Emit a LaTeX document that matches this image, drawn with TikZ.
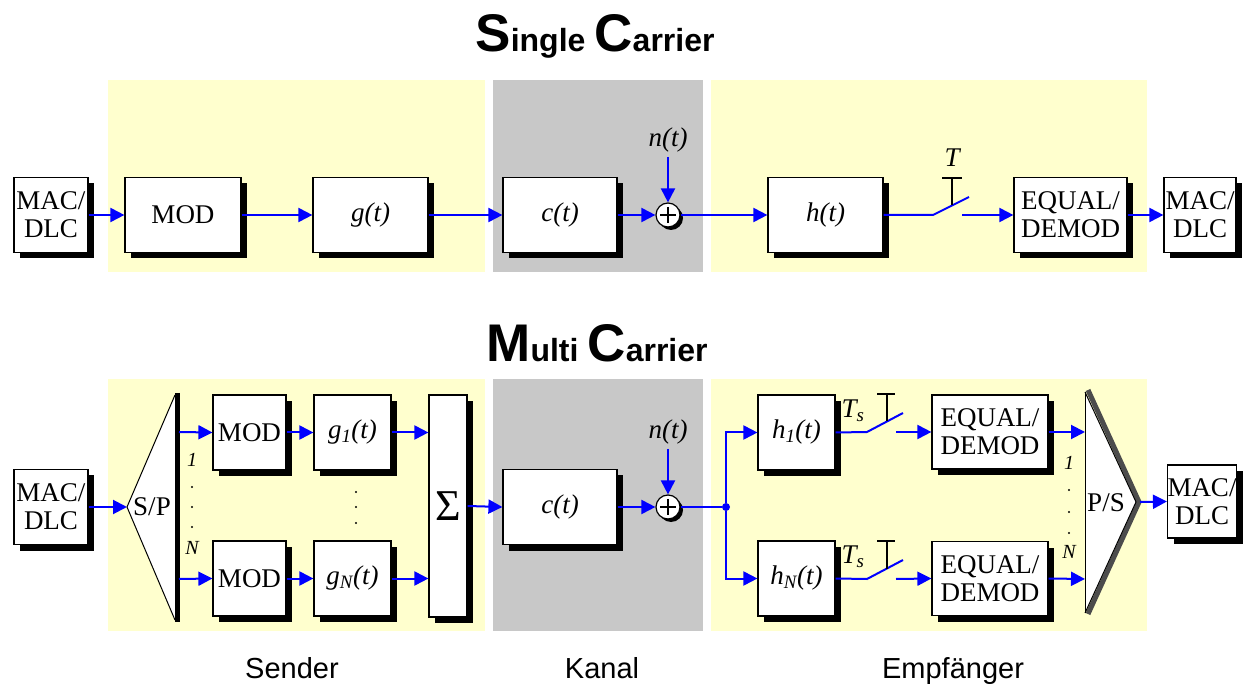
\documentclass[tikz,border=0pt]{standalone}
\usepackage{fontspec}
\setmainfont{Liberation Serif}
\setsansfont{Liberation Sans}
\usetikzlibrary{shadows,arrows.meta}
\newcommand\bxfont{\fontsize{27}{28}\selectfont}
\newcommand\smlfont{\fontsize{20}{22}\selectfont}
\newcommand\bigL[1]{{\fontsize{53}{53}\selectfont #1}}
\newcommand\smlL[1]{{\fontsize{32}{32}\selectfont #1}}
\definecolor{yel}{RGB}{255,255,206}
\definecolor{gry}{RGB}{200,200,200}
\definecolor{pblue}{RGB}{0,0,255}
\begin{document}
\begin{tikzpicture}[x=1pt,y=-1pt,
  blk/.style={draw=black,line width=1.2pt,fill=white,inner sep=0pt,align=center,font=\bxfont,
    drop shadow={shadow xshift=6pt,shadow yshift=-6pt,fill=black,opacity=1}},
  sig/.style={draw=pblue,line width=2pt,-{Triangle[length=14pt,width=14pt]}},
  wire/.style={draw=pblue,line width=2pt},
  sumc/.style={circle,draw=black,line width=1.2pt,fill=white,minimum size=24pt,inner sep=0pt,
    drop shadow={shadow xshift=3pt,shadow yshift=-3pt,fill=black,opacity=1}},
  sw/.style={draw=black,line width=1.2pt},
  lbl/.style={font=\bxfont\itshape,inner sep=0pt},
  idx/.style={font=\smlfont\itshape,inner sep=0pt},
  dotc/.style={circle,fill=black,inner sep=0pt,minimum size=2.4pt},
  sect/.style={font=\sffamily\fontsize{29}{29}\selectfont,anchor=base,inner sep=0pt},
  ttl/.style={font=\sffamily\bfseries,anchor=base,inner sep=0pt}
]
\useasboundingbox (0,0) rectangle (1243,684);
\fill[white] (0,0) rectangle (1243,684);
% panels
\fill[yel] (108,80) rectangle (485,272);
\fill[gry] (493,80) rectangle (703,272);
\fill[yel] (711,80) rectangle (1147,272);
\fill[yel] (108,379) rectangle (485,631);
\fill[gry] (493,379) rectangle (703,631);
\fill[yel] (711,379) rectangle (1147,631);
% titles
\node[ttl] (t1) at (595,52) {\bigL{S}\smlL{ingle}\hspace{9pt}\bigL{C}\smlL{arrier}};
\node[ttl] (t2) at (597,362) {\bigL{M}\smlL{ulti}\hspace{9pt}\bigL{C}\smlL{arrier}};
% ================= single carrier =================
\node[blk,minimum width=74pt,minimum height=75pt] (mac1) at (51,215) {MAC/\\DLC};
\node[blk,minimum width=116pt,minimum height=75pt] (mod) at (183,215) {MOD};
\node[blk,minimum width=115pt,minimum height=75pt] (g) at (370.5,215) {\itshape g(t)};
\node[blk,minimum width=114pt,minimum height=75pt] (c) at (560,215) {\itshape c(t)};
\node[sumc] (s1) at (668,215) {};
\draw[line width=1.2pt] (s1.center) ++(-8,0) -- ++(16,0);
\draw[line width=1.2pt] (s1.center) ++(0,-8) -- ++(0,16);
\node[lbl] (n1l) at (668,140) {n(t)};
\coordinate (n1) at (668,157);
\node[blk,minimum width=115pt,minimum height=75pt] (h) at (825.5,215) {\itshape h(t)};
\node[blk,minimum width=113pt,minimum height=75pt] (eq) at (1070.5,215) {EQUAL/\\DEMOD};
\node[blk,minimum width=72pt,minimum height=75pt] (mac2) at (1200,215) {MAC/\\DLC};
\coordinate (swa) at (933,215);
\coordinate (swb) at (969,197);
\coordinate (swc) at (962,215);
\node[lbl] (tl) at (952,158) {T};
\draw[sig] (mac1.east) -- (mod.west);
\draw[sig] (mod.east) -- (g.west);
\draw[sig] (g.east) -- (c.west);
\draw[sig] (c.east) -- (s1.west);
\draw[sig] (n1) -- (s1.north);
\draw[sig] (s1.east) -- (h.west);
\draw[wire] (h.east) -- (swa) -- (swb);
\draw[sw] (942,178) -- (962,178) (952,178) -- (952,205.5);
\draw[sig] (swc) -- (eq.west);
\draw[sig] (eq.east) -- (mac2.west);
% ================= multi carrier =================
\node[blk,minimum width=74pt,minimum height=75pt] (mac3) at (51,507) {MAC/\\DLC};
% S/P
\coordinate (spA) at (127,507);
\coordinate (spT) at (175,395);
\coordinate (spB) at (175,620);
\fill[white] (spA) -- (spT) -- (spB) -- cycle;
\draw[line width=1pt] (spT) -- (spA) -- (spB);
\draw[line width=5pt] (177,393) -- (177,622);
\node[font=\bxfont,inner sep=0pt] (sp) at (152,507) {S/P};
\coordinate (sp1) at (179,432);
\coordinate (sp2) at (179,579);
\node[idx] (i1) at (192,460) {1};
\node[dotc] (d1) at (192,487) {};
\node[dotc] (d2) at (192,507) {};
\node[dotc] (d3) at (192,527) {};
\node[idx] (iN) at (192,548) {N};
\node[blk,minimum width=73pt,minimum height=75pt] (mod1) at (249.5,432.5) {MOD};
\node[blk,minimum width=73pt,minimum height=75pt] (mod2) at (249.5,578.5) {MOD};
\node[blk,minimum width=77pt,minimum height=75pt] (g1) at (352.5,432.5) {\itshape g\textsubscript{1}(t)};
\node[blk,minimum width=77pt,minimum height=75pt] (gN) at (352.5,578.5) {\itshape g\textsubscript{N}(t)};
\node[dotc] (e1) at (356,492) {};
\node[dotc] (e2) at (356,507) {};
\node[dotc] (e3) at (356,523) {};
\node[blk,minimum width=38pt,minimum height=222pt] (sig) at (448,506) {\fontsize{44}{44}\selectfont Σ};
\node[blk,minimum width=114pt,minimum height=75pt] (c2) at (560,507) {\itshape c(t)};
\node[sumc] (s2) at (668,507) {};
\draw[line width=1.2pt] (s2.center) ++(-8,0) -- ++(16,0);
\draw[line width=1.2pt] (s2.center) ++(0,-8) -- ++(0,16);
\node[lbl] (n2l) at (668,432) {n(t)};
\coordinate (n2) at (668,449);
\node[circle,fill=pblue,inner sep=0pt,minimum size=8pt] (jn) at (726,507) {};
\node[blk,minimum width=77pt,minimum height=75pt] (h1) at (796.5,432.5) {\itshape h\textsubscript{1}(t)};
\node[blk,minimum width=77pt,minimum height=75pt] (hN) at (796.5,578.5) {\itshape h\textsubscript{N}(t)};
\node[blk,minimum width=116pt,minimum height=74pt] (eq1) at (990,432) {EQUAL/\\DEMOD};
\node[blk,minimum width=116pt,minimum height=74pt] (eq2) at (990,578.5) {EQUAL/\\DEMOD};
% switches
\coordinate (s1a) at (867,432);
\coordinate (s1b) at (903,413);
\coordinate (s1c) at (896,432);
\coordinate (s2a) at (867,579);
\coordinate (s2b) at (903,560);
\coordinate (s2c) at (896,579);
\node[lbl] (ts1) at (853,411) {T\textsubscript{s}};
\node[lbl] (ts2) at (853,557) {T\textsubscript{s}};
% P/S
\coordinate (psT) at (1085,392);
\coordinate (psB) at (1085,613);
\coordinate (psA) at (1136,502);
\fill[white] (psT) -- (psA) -- (psB) -- cycle;
\draw[line width=5pt,draw=black!70] (1088,390) -- (1139,502) -- (1088,614);
\draw[line width=1pt] (psT) -- (psA) -- (psB);
\draw[line width=1pt] (psT) -- (psB);
\node[font=\bxfont,inner sep=0pt] (ps) at (1106,503) {P/S};
\coordinate (ps1) at (1085,432);
\coordinate (ps2) at (1085,579);
\coordinate (psO) at (1140,502);
\node[idx] (j1) at (1069,463) {1};
\node[dotc] (f1) at (1069,490) {};
\node[dotc] (f2) at (1069,512) {};
\node[dotc] (f3) at (1069,533) {};
\node[idx] (jN) at (1069,552) {N};
\node[blk,minimum width=68pt,minimum height=73pt] (mac4) at (1202,501.5) {MAC/\\DLC};
% connectors
\draw[sig] (mac3.east) -- (spA);
\draw[sig] (sp1) -- (mod1.west);
\draw[sig] (sp2) -- (mod2.west);
\draw[sig] (mod1.east) -- (g1.west);
\draw[sig] (mod2.east) -- (gN.west);
\draw[sig] (g1.east) -- (g1.east -| sig.west);
\draw[sig] (gN.east) -- (gN.east -| sig.west);
\draw[sig] (sig.east) -- (c2.west);
\draw[sig] (c2.east) -- (s2.west);
\draw[sig] (n2) -- (s2.north);
\draw[wire] (s2.east) -- (jn);
\draw[sig] (jn) |- (h1.west);
\draw[sig] (jn) |- (hN.west);
\draw[wire] (h1.east) -- (s1a) -- (s1b);
\draw[wire] (hN.east) -- (s2a) -- (s2b);
\draw[sw] (877,394) -- (895,394) (887,394) -- (887,421.5);
\draw[sw] (877,541) -- (895,541) (887,541) -- (887,568.5);
\draw[sig] (s1c) -- (eq1.west);
\draw[sig] (s2c) -- (eq2.west);
\draw[sig] (eq1.east) -- (ps1);
\draw[sig] (eq2.east) -- (ps2);
\draw[sig] (psO) -- (mac4.west);
% section labels
\node[sect] (sen) at (292,678) {Sender};
\node[sect] (kan) at (602,678) {Kanal};
\node[sect] (emp) at (953,678) {Empfänger};
\end{tikzpicture}
\end{document}
